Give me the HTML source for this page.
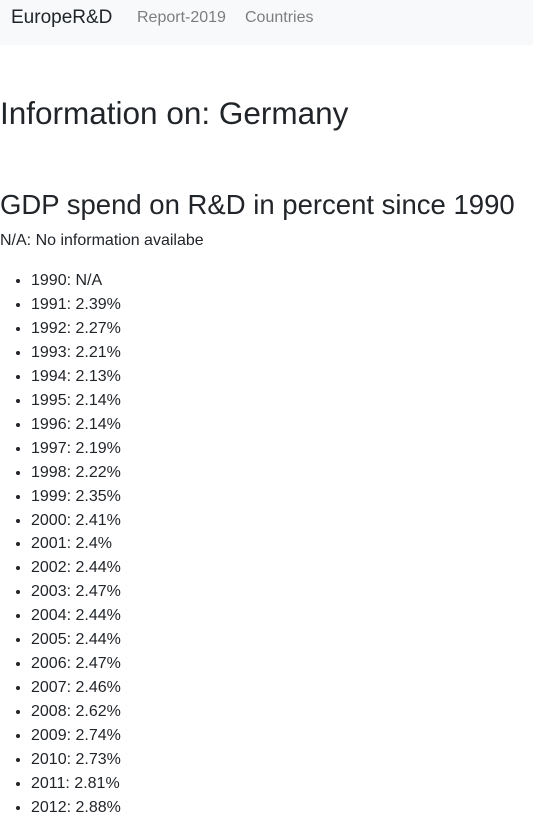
<!DOCTYPE html>
<html><head><meta charset="utf-8"><style>
body{margin:0;width:533px;height:810px;overflow:hidden;background:#fff;font-family:"Liberation Sans",Helvetica,Arial,sans-serif;color:#212529;position:relative}
.nav{position:absolute;left:0;top:0;width:533px;height:45px;background:#f8f9fa}
.brand{position:absolute;left:11px;top:6px;font-size:19px;line-height:24px;color:#212529}
.link{position:absolute;top:8px;font-size:16px;line-height:20px;color:rgba(0,0,0,.5)}
h1,h2{position:absolute;left:0;margin:0;font-weight:500;line-height:36px;white-space:nowrap}
h1{font-size:31.5px}
h2{font-size:27.5px}
.na{position:absolute;left:0;top:231px;font-size:16px;line-height:20px}
ul{position:absolute;left:0;top:269px;margin:0;padding-left:31px;font-size:16px;line-height:23.95px}
</style></head><body>
<div class="nav">
<span class="brand">EuropeR&amp;D</span>
<span class="link" style="left:137px">Report-2019</span>
<span class="link" style="left:245px">Countries</span>
</div>
<h1 style="top:95px">Information on: Germany</h1>
<h2 style="top:187px">GDP spend on R&amp;D in percent since 1990</h2>
<div class="na">N/A: No information availabe</div>
<ul>
<li>1990: N/A</li><li>1991: 2.39%</li><li>1992: 2.27%</li><li>1993: 2.21%</li><li>1994: 2.13%</li><li>1995: 2.14%</li><li>1996: 2.14%</li><li>1997: 2.19%</li><li>1998: 2.22%</li><li>1999: 2.35%</li><li>2000: 2.41%</li><li>2001: 2.4%</li><li>2002: 2.44%</li><li>2003: 2.47%</li><li>2004: 2.44%</li><li>2005: 2.44%</li><li>2006: 2.47%</li><li>2007: 2.46%</li><li>2008: 2.62%</li><li>2009: 2.74%</li><li>2010: 2.73%</li><li>2011: 2.81%</li><li>2012: 2.88%</li>
</ul>
</body></html>
